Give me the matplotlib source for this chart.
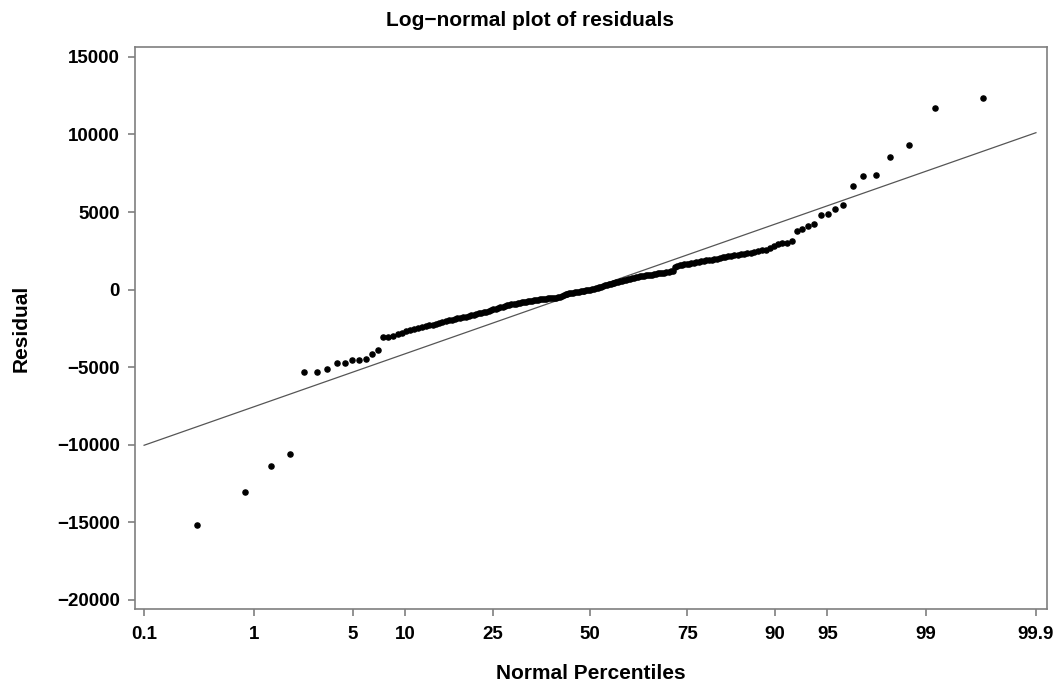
"""
Log-normal plot of residuals (normal probability plot).

The x axis is a normal-percentile scale, built with matplotlib's FuncScale
and the standard library NormalDist (no scipy needed).
"""

import math
from statistics import NormalDist

import matplotlib
matplotlib.use("Agg")
import matplotlib.pyplot as plt
import numpy as np


# Plotting positions of the 193 residuals (percent)
percentiles = [
    0.32, 0.84, 1.36, 1.88, 2.39, 2.91, 3.43, 3.95, 4.46, 4.98,
    5.50, 6.02, 6.53, 7.05, 7.57, 8.09, 8.60, 9.12, 9.64, 10.16,
    10.67, 11.19, 11.71, 12.23, 12.74, 13.26, 13.78, 14.30, 14.81, 15.33,
    15.85, 16.36, 16.88, 17.40, 17.92, 18.43, 18.95, 19.47, 19.99, 20.50,
    21.02, 21.54, 22.06, 22.57, 23.09, 23.61, 24.13, 24.64, 25.16, 25.68,
    26.20, 26.71, 27.23, 27.75, 28.27, 28.78, 29.30, 29.82, 30.34, 30.85,
    31.37, 31.89, 32.41, 32.92, 33.44, 33.96, 34.48, 34.99, 35.51, 36.03,
    36.55, 37.06, 37.58, 38.10, 38.62, 39.13, 39.65, 40.17, 40.69, 41.20,
    41.72, 42.24, 42.76, 43.27, 43.79, 44.31, 44.83, 45.34, 45.86, 46.38,
    46.90, 47.41, 47.93, 48.45, 48.97, 49.48, 50.00, 50.52, 51.03, 51.55,
    52.07, 52.59, 53.10, 53.62, 54.14, 54.66, 55.17, 55.69, 56.21, 56.73,
    57.24, 57.76, 58.28, 58.80, 59.31, 59.83, 60.35, 60.87, 61.38, 61.90,
    62.42, 62.94, 63.45, 63.97, 64.49, 65.01, 65.52, 66.04, 66.56, 67.08,
    67.59, 68.11, 68.63, 69.15, 69.66, 70.18, 70.70, 71.22, 71.73, 72.25,
    72.77, 73.29, 73.80, 74.32, 74.84, 75.36, 75.87, 76.39, 76.91, 77.43,
    77.94, 78.46, 78.98, 79.50, 80.01, 80.53, 81.05, 81.57, 82.08, 82.60,
    83.12, 83.64, 84.15, 84.67, 85.19, 85.71, 86.22, 86.74, 87.26, 87.77,
    88.29, 88.81, 89.33, 89.84, 90.36, 90.88, 91.40, 91.91, 92.43, 92.95,
    93.47, 93.98, 94.50, 95.02, 95.54, 96.05, 96.57, 97.09, 97.61, 98.12,
    98.64, 99.16, 99.68,
]

# Sorted residuals
residuals = [
    -15150, -13050, -11390, -10590, -5340, -5340, -5110, -4720, -4700, -4530,
    -4530, -4480, -4180, -3900, -3080, -3030, -2960, -2880, -2790, -2690,
    -2600, -2540, -2480, -2420, -2360, -2300, -2250, -2200, -2130, -2060,
    -2000, -1970, -1930, -1890, -1860, -1820, -1780, -1740, -1700, -1650,
    -1610, -1570, -1530, -1490, -1450, -1420, -1380, -1330, -1280, -1240,
    -1190, -1150, -1100, -1050, -1020, -990, -960, -930, -910, -880,
    -860, -830, -800, -780, -750, -730, -710, -690, -660, -640,
    -630, -610, -600, -590, -570, -560, -550, -530, -520, -500,
    -480, -420, -360, -310, -270, -250, -230, -200, -180, -150,
    -130, -110, -90, -60, -40, -20, 0, 20, 50, 75,
    110, 150, 190, 230, 270, 300, 330, 370, 400, 430,
    470, 500, 530, 570, 600, 630, 670, 700, 730, 770,
    800, 830, 850, 870, 890, 910, 934, 950, 970, 990,
    1010, 1040, 1060, 1080, 1100, 1130, 1150, 1180, 1210, 1480,
    1520, 1560, 1590, 1620, 1650, 1680, 1710, 1740, 1770, 1800,
    1830, 1856, 1880, 1910, 1930, 1960, 1985, 2030, 2080, 2120,
    2150, 2180, 2200, 2240, 2270, 2300, 2340, 2370, 2420, 2460,
    2525, 2560, 2650, 2800, 2930, 2980, 3015, 3145, 3790, 3900,
    4110, 4220, 4800, 4845, 5170, 5445, 6670, 7340, 7390, 8550,
    9300, 11730, 12335,
]

# Reference line end points
ref_percentiles = [0.1, 99.9]
ref_residuals = [-10030, 10110]

x_ticks = [0.1, 1, 5, 10, 25, 50, 75, 90, 95, 99, 99.9]
x_tick_labels = ["0.1", "1", "5", "10", "25", "50", "75", "90", "95", "99", "99.9"]
y_ticks = [-20000, -15000, -10000, -5000, 0, 5000, 10000, 15000]

_std_normal = NormalDist()


def percent_to_z(p):
    """percent -> standard normal quantile"""
    p = np.clip(np.asarray(p, dtype=float), 1e-7, 100 - 1e-7)
    return np.vectorize(lambda v: _std_normal.inv_cdf(v / 100.0), otypes=[float])(p)


def z_to_percent(z):
    """standard normal quantile -> percent"""
    z = np.clip(np.asarray(z, dtype=float), -30, 30)
    return np.vectorize(lambda v: 50.0 * (1.0 + math.erf(v / math.sqrt(2.0))), otypes=[float])(z)


plt.rcParams["font.family"] = ["Liberation Sans", "DejaVu Sans"]
plt.rcParams["font.weight"] = "bold"

fig = plt.figure(figsize=(10.6, 6.84), dpi=100)
ax = fig.add_axes([0.1274, 0.1092, 0.8601, 0.8225])

ax.set_xscale("function", functions=(percent_to_z, z_to_percent))

ax.plot(ref_percentiles, ref_residuals, color="#555555", linewidth=0.9, zorder=2)
ax.plot(percentiles, residuals, linestyle="none", marker="o", markersize=3.7,
        markerfacecolor="black", markeredgecolor="black", zorder=3)

ax.set_xlim(0.0808, 99.9225)
ax.set_ylim(-20600, 15650)

ax.set_xticks(x_ticks)
ax.set_xticklabels(x_tick_labels)
ax.set_yticks(y_ticks)
ax.minorticks_off()

for spine in ax.spines.values():
    spine.set_color("#7f7f7f")
    spine.set_linewidth(1.2)

ax.tick_params(axis="both", direction="out", color="#7f7f7f", width=1.2,
               length=5, labelsize=13.5, labelcolor="black")
ax.tick_params(axis="x", pad=7)
ax.tick_params(axis="y", pad=6)
for label in ax.get_xticklabels() + ax.get_yticklabels():
    label.set_fontweight("bold")

ax.set_xlabel("Normal Percentiles", fontsize=15, fontweight="bold")
ax.xaxis.set_label_coords(0.5, -0.097)
ax.set_ylabel("Residual", fontsize=15, fontweight="bold")
ax.yaxis.set_label_coords(-0.115, 0.5)

# title is centred on the whole figure, not on the axes
fig.text(0.5, 1 - 26 / 684, "Log\u2212normal plot of residuals", ha="center", va="baseline",
         fontsize=15, fontweight="bold")

fig.savefig("out.png", dpi=100)
plt.close(fig)
